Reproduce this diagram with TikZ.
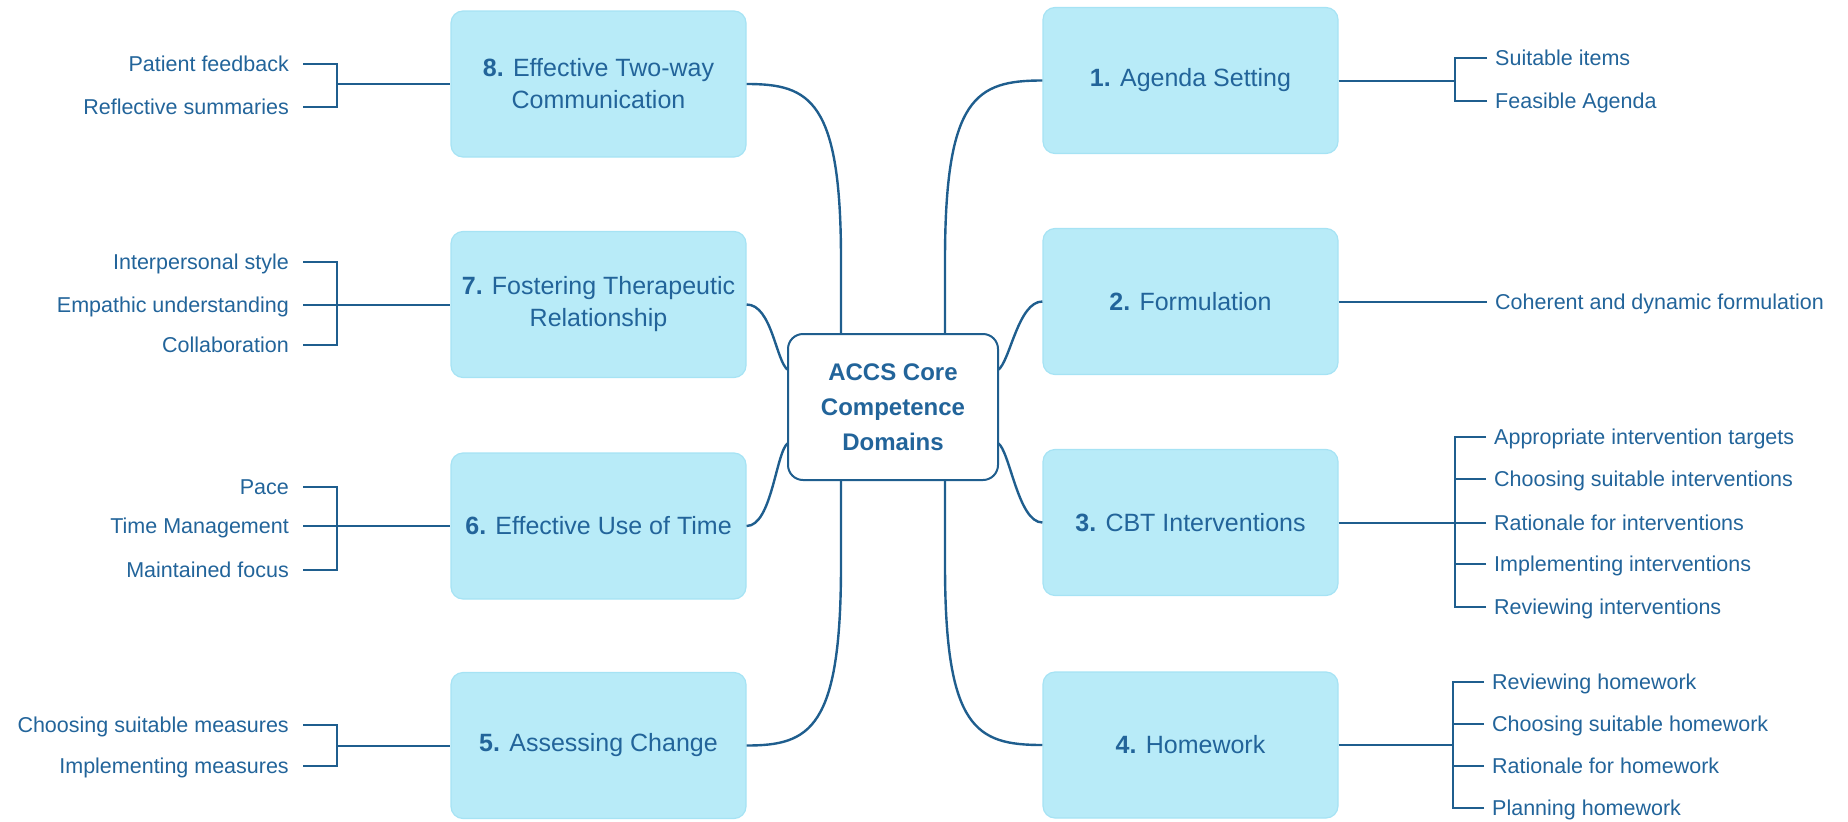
\documentclass[tikz,border=0pt]{standalone}
\usepackage{fontspec}
\setmainfont{Liberation Sans}
\definecolor{txt}{HTML}{22649A}
\definecolor{ln}{HTML}{1F5E8E}
\definecolor{boxfill}{HTML}{B8EBF8}
\definecolor{boxdraw}{HTML}{A6E3F4}
\begin{document}
\begin{tikzpicture}[x=1pt,y=-1pt,
  dom/.style={draw=boxdraw, fill=boxfill, line width=1.2pt, rounded corners=12pt,
    minimum width=295pt, minimum height=146pt, align=center, text=txt,
    font=\fontsize{25}{32}\selectfont, inner sep=0pt},
  core/.style={draw=ln, fill=white, line width=2pt, rounded corners=15pt,
    minimum width=210pt, minimum height=146pt, align=center, text=txt,
    font=\fontsize{24}{35}\selectfont\bfseries, inner sep=0pt},
  leafL/.style={text=txt, font=\fontsize{21.5}{26}\selectfont, inner sep=0pt, anchor=base east, yshift=-7.5pt},
  leafR/.style={text=txt, font=\fontsize{21.5}{26}\selectfont, inner sep=0pt, anchor=base west, yshift=-7.5pt},
  conn/.style={draw=ln, line width=2.4pt},
  brk/.style={draw=ln, line width=2pt}]
\useasboundingbox (0,0) rectangle (1848,822);

% centre
\node[core] (c) at (893,407) {ACCS Core\\Competence\\Domains};

% domain boxes
\node[dom] (b8) at (598.5,84)    {\textbf{8.} Effective Two-way\\Communication};
\node[dom] (b7) at (598.5,304.5) {\textbf{7.} Fostering Therapeutic\\Relationship};
\node[dom] (b6) at (598.5,526)   {\textbf{6.} Effective Use of Time};
\node[dom] (b5) at (598.5,745.5) {\textbf{5.} Assessing Change};
\node[dom] (b1) at (1190.5,80.5) {\textbf{1.} Agenda Setting};
\node[dom] (b2) at (1190.5,301.5){\textbf{2.} Formulation};
\node[dom] (b3) at (1190.5,522.5){\textbf{3.} CBT Interventions};
\node[dom] (b4) at (1190.5,745)  {\textbf{4.} Homework};

% attachment points on the centre box
\coordinate (ct1) at (841,334);
\coordinate (ct2) at (945,334);
\coordinate (cb1) at (841,480);
\coordinate (cb2) at (945,480);
\coordinate (cl1) at (788,370);
\coordinate (cl2) at (788,443);
\coordinate (cr1) at (998,370);
\coordinate (cr2) at (998,443);

% curved connectors
\draw[conn] (b8.east) .. controls (810,84) and (841,100) .. (841,260) -- (ct1);
\draw[conn] (b1.west) .. controls (976,80.5) and (945,97) .. (945,260) -- (ct2);
\draw[conn] (b5.east) .. controls (810,745.5) and (841,729) .. (841,565) -- (cb1);
\draw[conn] (b4.west) .. controls (976,745) and (945,729) .. (945,565) -- (cb2);
\draw[conn] (b7.east) .. controls (772,304.5) and (776,362) .. (cl1);
\draw[conn] (b6.east) .. controls (772,526) and (776,451) .. (cl2);
\draw[conn] (b2.west) .. controls (1018,301.5) and (1010,362) .. (cr1);
\draw[conn] (b3.west) .. controls (1018,522.5) and (1010,451) .. (cr2);

% ---------- left leaves ----------
\coordinate (j8) at (337,84);
\coordinate (t81) at (303,64);
\coordinate (t82) at (303,107);
\node[leafL] (l81) at (289,64)  {Patient feedback};
\node[leafL] (l82) at (289,107) {Reflective summaries};
\draw[brk] (j8) -- (b8.west);
\foreach \n in {t81,t82} \draw[brk] (\n) -| (j8);

\coordinate (j7) at (337,304.5);
\coordinate (t71) at (303,262);
\coordinate (t72) at (303,304.5);
\coordinate (t73) at (303,345);
\node[leafL] (l71) at (289,262)   {Interpersonal style};
\node[leafL] (l72) at (289,304.5) {Empathic understanding};
\node[leafL] (l73) at (289,345)   {Collaboration};
\draw[brk] (j7) -- (b7.west);
\foreach \n in {t71,t72,t73} \draw[brk] (\n) -| (j7);

\coordinate (j6) at (337,526);
\coordinate (t61) at (303,487);
\coordinate (t62) at (303,526);
\coordinate (t63) at (303,570);
\node[leafL] (l61) at (289,487) {Pace};
\node[leafL] (l62) at (289,526) {Time Management};
\node[leafL] (l63) at (289,570) {Maintained focus};
\draw[brk] (j6) -- (b6.west);
\foreach \n in {t61,t62,t63} \draw[brk] (\n) -| (j6);

\coordinate (j5) at (337,745.5);
\coordinate (t51) at (303,725);
\coordinate (t52) at (303,766);
\node[leafL] (l51) at (289,725) {Choosing suitable measures};
\node[leafL] (l52) at (289,766) {Implementing measures};
\draw[brk] (j5) -- (b5.west);
\foreach \n in {t51,t52} \draw[brk] (\n) -| (j5);

% ---------- right leaves ----------
\coordinate (j1) at (1455,80.5);
\coordinate (t11) at (1487,58);
\coordinate (t12) at (1487,101);
\node[leafR] (l11) at (1495,58)  {Suitable items};
\node[leafR] (l12) at (1495,101) {Feasible Agenda};
\draw[brk] (b1.east) -- (j1);
\foreach \n in {t11,t12} \draw[brk] (\n) -| (j1);

\coordinate (t21) at (1487,301.5);
\node[leafR] (l21) at (1495,301.5) {Coherent and dynamic formulation};
\draw[brk] (b2.east) -- (t21);

\coordinate (j3) at (1455,522.5);
\coordinate (t31) at (1486,437);
\coordinate (t32) at (1486,479);
\coordinate (t33) at (1486,522.5);
\coordinate (t34) at (1486,564);
\coordinate (t35) at (1486,607);
\node[leafR] (l31) at (1494,437)   {Appropriate intervention targets};
\node[leafR] (l32) at (1494,479)   {Choosing suitable interventions};
\node[leafR] (l33) at (1494,522.5) {Rationale for interventions};
\node[leafR] (l34) at (1494,564)   {Implementing interventions};
\node[leafR] (l35) at (1494,607)   {Reviewing interventions};
\draw[brk] (b3.east) -- (j3);
\foreach \n in {t31,t32,t33,t34,t35} \draw[brk] (\n) -| (j3);

\coordinate (j4) at (1453,745);
\coordinate (t41) at (1484,682);
\coordinate (t42) at (1484,724);
\coordinate (t43) at (1484,766);
\coordinate (t44) at (1484,808);
\node[leafR] (l41) at (1492,682) {Reviewing homework};
\node[leafR] (l42) at (1492,724) {Choosing suitable homework};
\node[leafR] (l43) at (1492,766) {Rationale for homework};
\node[leafR] (l44) at (1492,808) {Planning homework};
\draw[brk] (b4.east) -- (j4);
\foreach \n in {t41,t42,t43,t44} \draw[brk] (\n) -| (j4);

\end{tikzpicture}
\end{document}
